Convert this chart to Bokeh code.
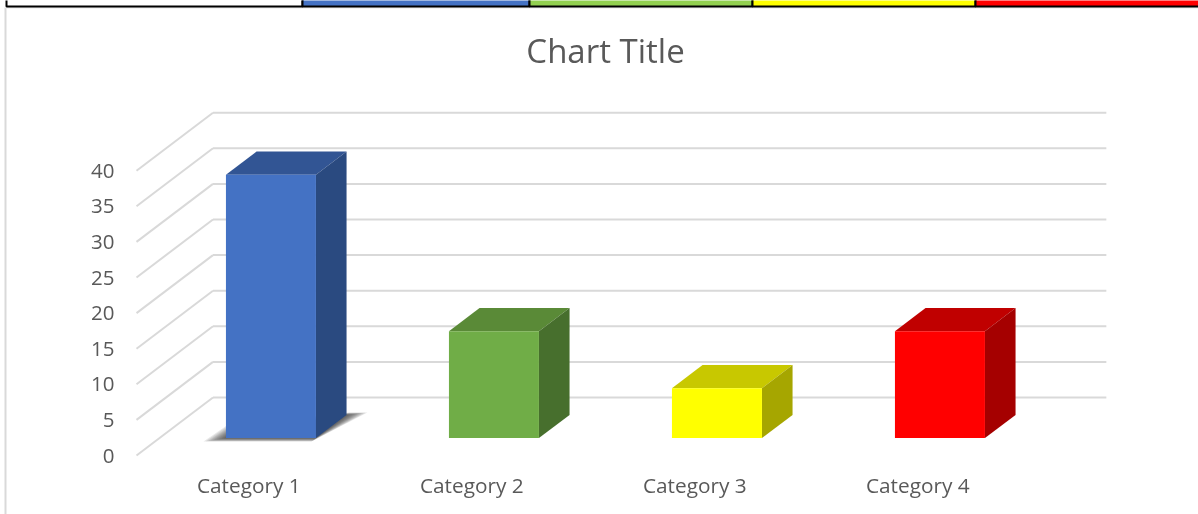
from bokeh.plotting import figure
from bokeh.models import Range1d, LinearAxis, FixedTicker, BoxAnnotation, Label
from bokeh.embed import file_html
from bokeh.resources import INLINE

categories = ["Category 1", "Category 2", "Category 3", "Category 4"]
values = [37, 15, 7, 15]
y_ticks = [0, 5, 10, 15, 20, 25, 30, 35, 40]
title = "Chart Title"
front_colors = ["#4472C4", "#70AD47", "#FFFF00", "#FF0000"]
top_colors = ["#325594", "#5A8A37", "#C8C800", "#C00000"]
side_colors = ["#2A4A80", "#476F2D", "#A6A600", "#A50000"]
strip_colors = ["#FFFFFF", "#4472C4", "#92D050", "#FFFF00", "#FF0000"]
strip_edges = [6, 302, 529, 752, 975, 1200]

W, H = 1198, 514
X0, Y0 = 136.0, 455.0      # screen position of the front floor origin
CAT_PX, VAL_PX = 223.0, 7.12
DX = 76.5 / CAT_PX          # depth offset, in data units
DY = 58.0 / VAL_PX
BAR_W, D0, D1 = 0.4036, 0.3, 0.7
FONT = "Open Sans"
TXT = "#595959"
GRID = "#D9D9D9"

p = figure(width=W, height=H, output_backend="svg", toolbar_location=None,
           x_range=Range1d(-X0 / CAT_PX, (W - X0) / CAT_PX),
           y_range=Range1d((Y0 - H) / VAL_PX, Y0 / VAL_PX),
           x_axis_type=None, y_axis_type=None,
           min_border=0, min_border_left=0, min_border_right=0,
           min_border_top=0, min_border_bottom=0, outline_line_color=None,
           background_fill_color="white")
p.grid.visible = False
p.styles = {"position": "fixed", "left": "0px", "top": "0px"}


def proj(c, d, v):
    return c + d * DX, v + d * DY


# walls
n = len(categories)
x0s, y0s, x1s, y1s = [], [], [], []
for v in y_ticks:
    a = proj(0, 0, v); b = proj(0, 1, v); c = proj(n + 0.006, 1, v)
    x0s += [a[0], b[0]]; y0s += [a[1], b[1]]
    x1s += [b[0], c[0]]; y1s += [b[1], c[1]]
p.segment(x0s, y0s, x1s, y1s, line_color=GRID, line_width=2)

# soft shadow on the floor of the first bar
l0, r0 = 0.5 - BAR_W / 2, 0.5 + BAR_W / 2
for k in range(10, 0, -1):
    grow = k / 10
    pts = [proj(l0 - 0.08 * grow, D0 - 0.06 * grow, 0),
           proj(r0, D0 - 0.06 * grow, 0),
           proj(r0 + 0.08 * grow, D1 + 0.04 * grow, 0),
           proj(r0, D1 + 0.04 * grow, 0),
           proj(l0 - 0.07 * grow, D0 + 0.22 * grow, 0)]
    p.patch([q[0] for q in pts], [q[1] for q in pts], fill_color="#222222", fill_alpha=0.1, line_color=None)

# bars
for i, v in enumerate(values):
    l, r = i + 0.5 - BAR_W / 2, i + 0.5 + BAR_W / 2
    top = [proj(l, D0, v), proj(r, D0, v), proj(r, D1, v), proj(l, D1, v)]
    side = [proj(r, D0, 0), proj(r, D1, 0), proj(r, D1, v), proj(r, D0, v)]
    front = [proj(l, D0, 0), proj(r, D0, 0), proj(r, D0, v), proj(l, D0, v)]
    for pts, col in [(top, top_colors[i]), (side, side_colors[i]), (front, front_colors[i])]:
        p.patch([q[0] for q in pts], [q[1] for q in pts], fill_color=col, line_color=None)

# axes, placed inside the frame
yax = LinearAxis(ticker=FixedTicker(ticks=y_ticks), fixed_location=(124 - X0) / CAT_PX,
                 axis_line_color=None, major_tick_line_color=None, minor_tick_line_color=None,
                 major_label_text_font=FONT, major_label_text_font_size="20.5px",
                 major_label_text_color=TXT, major_label_standoff=4)
p.add_layout(yax, "left")
tick_pos = [i + 0.5035 for i in range(n)]
xax = LinearAxis(ticker=FixedTicker(ticks=tick_pos),
                 major_label_overrides=dict(zip(tick_pos, categories)),
                 fixed_location=(Y0 - 461) / VAL_PX,
                 axis_line_color=None, major_tick_line_color=None, minor_tick_line_color=None,
                 major_label_text_font=FONT, major_label_text_font_size="20.8px",
                 major_label_text_color=TXT, major_label_standoff=3)
p.add_layout(xax, "below")

p.add_layout(Label(x=605, y=H - 50, x_units="screen", y_units="screen", text=title,
                   text_font=FONT, text_font_size="33px", text_color=TXT,
                   text_align="center", text_baseline="middle"))

# chart border and the strip above the chart (screen units count up from the bottom)
p.add_layout(BoxAnnotation(left=4, right=6, top=H - 7, bottom=0, left_units="screen", right_units="screen",
                           top_units="screen", bottom_units="screen", fill_color=GRID, fill_alpha=1, line_color=None))
p.add_layout(BoxAnnotation(left=5, right=W, top=H - 6, bottom=H - 8, left_units="screen", right_units="screen",
                           top_units="screen", bottom_units="screen", fill_color="#EAEAEA", fill_alpha=1, line_color=None))
for i, col in enumerate(strip_colors):
    p.add_layout(BoxAnnotation(left=strip_edges[i], right=strip_edges[i + 1], top=H + 2, bottom=H - 6,
                               left_units="screen", right_units="screen", top_units="screen", bottom_units="screen",
                               fill_color=col, fill_alpha=1, line_color="black", line_alpha=1, line_width=2))

open("out.html", "w").write(file_html(p, INLINE))
